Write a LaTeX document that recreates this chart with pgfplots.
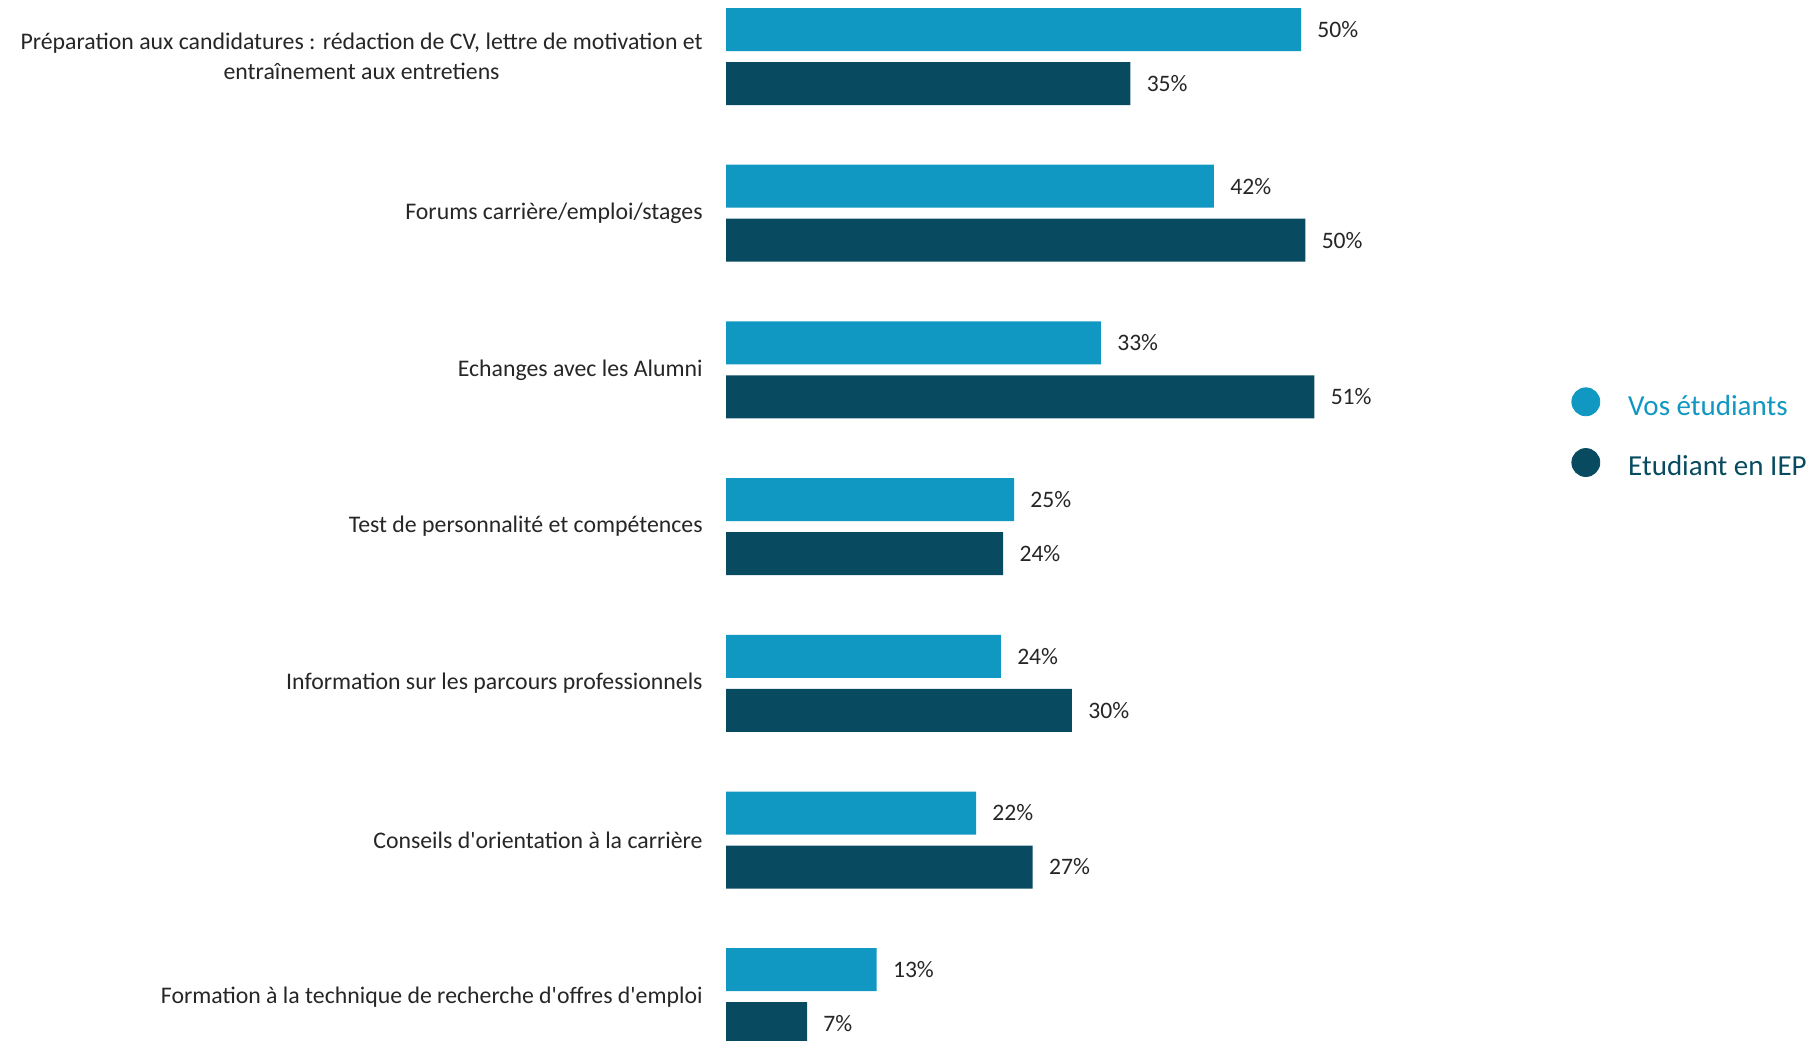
\documentclass[border=0pt]{standalone}
\usepackage{pgfplots}
\pgfplotsset{compat=1.18}
\usepackage{fontspec}
\setmainfont{Carlito}
\definecolor{cl}{HTML}{1097C2}
\definecolor{cd}{HTML}{084B60}
\definecolor{tx}{HTML}{262626}
\begin{document}
\begin{tikzpicture}
\path[use as bounding box] (0,0) rectangle (906.5pt,-520pt);
\begin{axis}[
  at={(363pt,-28.25pt)}, anchor=origin,
  x=5.75pt, y=78.35pt, y dir=reverse,
  xmin=0, xmax=100, ymin=-0.5, ymax=6.5,
  scale only axis,
  axis line style={draw=none},
  xtick=\empty,
  ytick={0,1,2,3,4,5,6},
  yticklabels={{Préparation aux candidatures : rédaction de CV, lettre de motivation et\\entraînement aux entretiens},
    {Forums carrière/emploi/stages},
    {Echanges avec les Alumni},
    {Test de personnalité et compétences},
    {Information sur les parcours professionnels},
    {Conseils d\textquotesingle orientation à la carrière},
    {Formation à la technique de recherche d\textquotesingle offres d\textquotesingle emploi}},
  major tick length=0pt,
  yticklabel style={font=\fontsize{11.9}{15}\selectfont, text=tx, align=center, inner sep=0pt, xshift=-11.5pt},
  xbar, bar width=21.5pt, bar shift=0pt,
  point meta=explicit,
  /pgf/number format/assume math mode=true,
  nodes near coords={\pgfmathprintnumber[fixed,precision=0]{\pgfplotspointmeta}\%},
  nodes near coords style={font=\fontsize{11.8}{14}\selectfont, text=tx, anchor=west, inner sep=0pt, xshift=8pt},
  clip=false,
  legend style={draw=none, fill=none, inner sep=0pt, at={(0.7348,0.5834)}, anchor=west,
    font=\fontsize{14.5}{17}\selectfont, row sep=13pt, column sep=12pt},
  legend cell align=left,
]
\addplot[forget plot, fill=cl, draw=none] coordinates {
  (50.0,-0.1723) [50] (42.43,0.8277) [42] (32.6,1.8277) [33] (25.05,2.8277) [25]
  (23.9,3.8277) [24] (21.74,4.8277) [22] (13.1,5.8277) [13]};
\addplot[forget plot, fill=cd, draw=none] coordinates {
  (35.16,0.1723) [35] (50.38,1.1723) [50] (51.16,2.1723) [51] (24.1,3.1723) [24]
  (30.08,4.1723) [30] (26.67,5.1723) [27] (7.05,6.1723) [7]};
\addlegendimage{legend image code/.code={\fill[cl] (7pt,0.5ex) circle (7pt);}}
\addlegendentry{\textcolor{cl}{Vos étudiants}}
\addlegendimage{legend image code/.code={\fill[cd] (7pt,0.5ex) circle (7pt);}}
\addlegendentry{\textcolor{cd}{Etudiant en IEP}}
\end{axis}
\end{tikzpicture}
\end{document}
